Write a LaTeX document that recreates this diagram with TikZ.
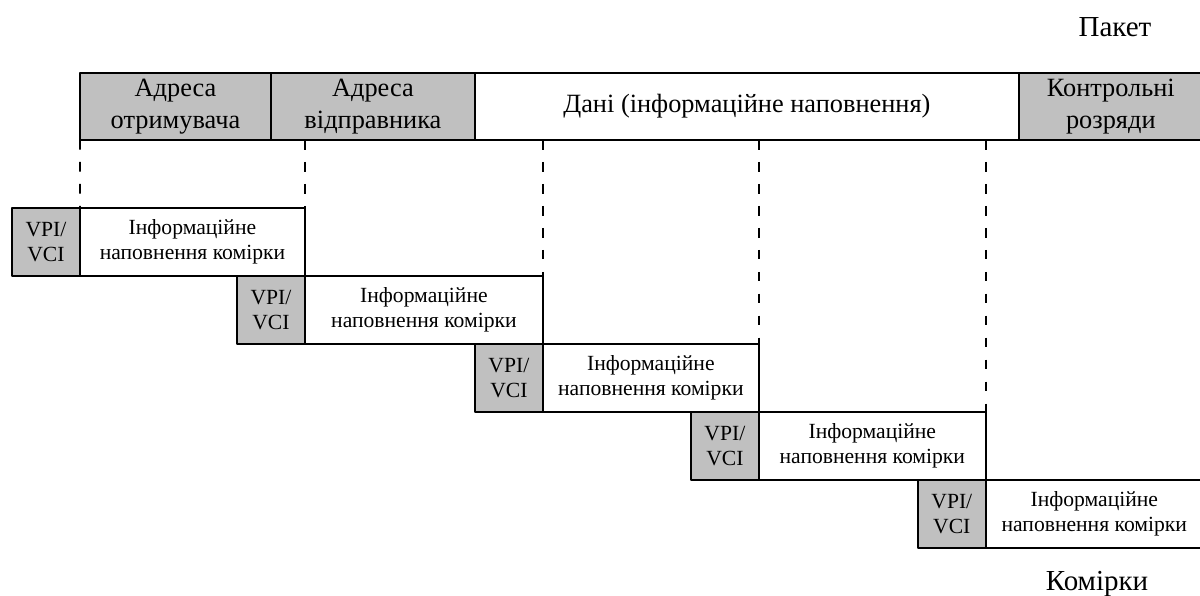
\documentclass[tikz,border=0pt]{standalone}
\usepackage{fontspec}
\setmainfont{Liberation Serif}
\usepackage{xcolor}
\usetikzlibrary{arrows.meta,positioning}
\definecolor{fieldgray}{RGB}{192,192,192}
\tikzset{
  every picture/.style={line join=round, line cap=round, >=Stealth},
  field/.style={draw, line width=1.1pt, inner sep=0pt, outer sep=0pt, align=center,
    minimum height=1.34cm, font=\fontsize{15}{18}\selectfont},
  grayfield/.style={field, fill=fieldgray},
  vpi/.style={draw, line width=1.1pt, fill=fieldgray, inner sep=0pt, outer sep=0pt, align=center,
    minimum width=1.36cm, minimum height=1.36cm, font=\fontsize{12.3}{14.2}\selectfont},
  payload/.style={vpi, fill=white},
  caption/.style={font=\fontsize{16.5}{19}\selectfont, anchor=base},
  cut/.style={line width=1.1pt, dash pattern=on 5.5pt off 7pt, line cap=butt},
}

\begin{document}
\begin{tikzpicture}[x=0.02cm,y=-0.02cm]
\useasboundingbox (0,0) rectangle (1200,595);
% packet
\node[grayfield,anchor=north west,minimum width=3.82cm] (dst) at (80,73) {Адреса\\отримувача};
\node[grayfield,right=0pt of dst,minimum width=4.08cm] (src) {Адреса\\відправника};
\node[field,right=0pt of src,minimum width=10.88cm] (data) {Дані (інформаційне наповнення)};
\node[grayfield,right=0pt of data,minimum width=3.68cm] (crc) {Контрольні\\розряди};
\node[caption] (pkt) at (1115,36) {Пакет};
% cells
\node[vpi,anchor=north west] (v1) at (12,208) {VPI/\\VCI};
\node[payload,right=0pt of v1,minimum width=4.5cm] (i1) {Інформаційне\\наповнення комірки};
\node[vpi,anchor=north east] (v2) at (i1.south east) {VPI/\\VCI};
\node[payload,right=0pt of v2,minimum width=4.76cm] (i2) {Інформаційне\\наповнення комірки};
\node[vpi,anchor=north east] (v3) at (i2.south east) {VPI/\\VCI};
\node[payload,right=0pt of v3,minimum width=4.32cm] (i3) {Інформаційне\\наповнення комірки};
\node[vpi,anchor=north east] (v4) at (i3.south east) {VPI/\\VCI};
\node[payload,right=0pt of v4,minimum width=4.54cm] (i4) {Інформаційне\\наповнення комірки};
\node[vpi,anchor=north east] (v5) at (i4.south east) {VPI/\\VCI};
\node[payload,right=0pt of v5,minimum width=4.34cm] (i5) {Інформаційне\\наповнення комірки};
\node[caption] (cls) at (1097,590) {Комірки};
% cut lines
\draw[cut] (dst.south west) -- (i1.north west);
\foreach \k in {1,2,3,4}
  \draw[cut] (i\k.north east |- dst.south) -- (i\k.north east);
\end{tikzpicture}
\end{document}
